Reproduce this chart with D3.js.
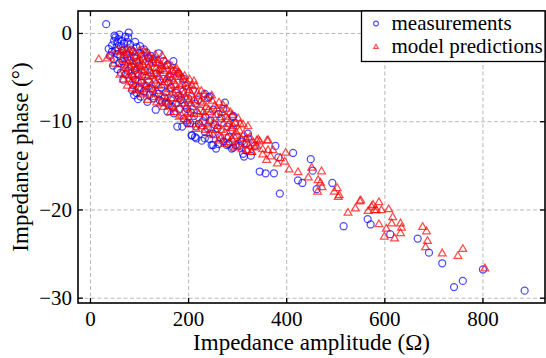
<!DOCTYPE html>
<html>
<head>
<meta charset="utf-8">
<script src="https://cdn.jsdelivr.net/npm/d3@7"></script>
<style>
  body { margin: 0; background: #fff; }
  svg text { font-family: "Liberation Serif", Tinos, "Times New Roman", Times, "DejaVu Serif", serif !important; fill: #000; }
</style>
</head>
<body>
<div id="hook-chart"></div>
<script>
'use strict';

// measured points [amplitude (ohm), phase (deg)]
var measurements = [
  [33,1.0],[79,0.05],[78,-0.5],[76,-1.0],[52,-0.5],[49,-0.9],[56,-1.1],[45,-1.4],[63,-1.5],[54,-1.65],
  [69,-1.85],[110,-1.85],[41,-2.6],[49,-3.0],[56,-2.4],[66,-3.2],[56,-4.1],[63,-4.5],[73,-4.7],[86,-4.9],
  [100,-3.7],[90,-2.8],[124,-2.6],[134,-3.3],[144,-4.1],[171,-4.3],[164,-5.0],[191,-5.2],
  [60,-0.2],[58,-0.7],[70,-1.2],[82,-1.3],[95,-1.6],[88,-2.1],[74,-2.4],[62,-2.6],[45,-2.1],[38,-1.8],
  [80,-3.1],[95,-3.3],[108,-3.0],[115,-2.2],[104,-2.4],[120,-3.6],[112,-4.3],[98,-4.6],[85,-3.8],[70,-3.6],
  [130,-4.6],[150,-3.2],[140,-2.3],[158,-3.6],[170,-3.2],[180,-4.6],
  [86,-6.5],[90,-7.05],[103,-7.2],[117,-7.8],[130,-7.4],[147,-7.8],[134,-8.7],[158,-8.9],[171,-9.1],[191,-9.7],
  [178,-10.6],[188,-10.6],[208,-11.6],[168,-8.4],[95,-6.8],[110,-6.6],[122,-7.0],[140,-6.9],[152,-7.3],[98,-7.5],
  [160,-8.0],[183,-8.6],
  [120,-5.5],[135,-5.8],[150,-5.2],[165,-6.2],[175,-6.8],[195,-6.0],[200,-7.4],[210,-6.5],[185,-7.6],[145,-6.2],
  [105,-5.6],[92,-5.3],[125,-6.3],[155,-6.7],[215,-8.0],[225,-8.8],[235,-9.5],[205,-9.0],[198,-8.6],[245,-9.9],
  [255,-10.4],[262,-9.2],[280,-10.6],[290,-11.0],[300,-11.8],[310,-12.3],[250,-11.4],[265,-11.8],[240,-10.8],[222,-10.3],
  [234,-6.9],[241,-7.3],[275,-7.9],[272,-8.6],[292,-9.4],[216,-10.6],[234,-11.2],[214,-11.8],[251,-12.7],[272,-12.3],
  [292,-13.0],[322,-11.4],[244,-7.2],[251,-8.7],[291,-9.5],[322,-11.95],
  [50,-0.3],[65,-0.9],[72,-0.4],[84,-1.9],[92,-1.0],[66,-2.0],[52,-2.0],[47,-3.7],[60,-3.4],[76,-2.8],
  [102,-1.5],[118,-2.8],[128,-3.0],[136,-4.6],[92,-4.2],[106,-4.9],[78,-4.3],[68,-5.3],[88,-5.9],[100,-6.2],
  [115,-6.0],[128,-6.6],[142,-7.6],[155,-7.9],[165,-7.6],[175,-8.0],[193,-8.2],[204,-10.2],[180,-7.1],[160,-5.6],
  [190,-6.6],[220,-7.6],[230,-10.0],[260,-10.8],[268,-9.7],[283,-11.8],[296,-10.2],[305,-12.8],[228,-12.2],[243,-12.0],
  [262,-12.6],[282,-12.6],[318,-13.3],[336,-12.8],[198,-10.2],[212,-9.4],
  [207,-11.6],[217,-11.95],[234,-11.95],[248,-12.7],[257,-13.1],[289,-13.1],[279,-12.7],[297,-12.7],[319,-12.5],[312,-13.7],
  [314,-14.0],[328,-13.9],[346,-15.7],[358,-15.9],[375,-15.9],[378,-12.8],[384,-14.1],[387,-18.2],[414,-13.6],[450,-14.3],
  [454,-15.6],[424,-16.7],[433,-17.0],[494,-17.0],[462,-17.7],[517,-21.9],[566,-21.1],[572,-21.7],
  [612,-22.8],[668,-23.3],[691,-24.9],[718,-26.1],[801,-26.8],[742,-28.8],[760,-28.1],[886,-29.2]
];

// model output points [amplitude (ohm), phase (deg)]
var predictions = [
  [18,-3.0],[41,-2.6],[49,-3.5],[61,-4.75],[35,-2.9],[55,-2.0],
  [62,-2.2],[66,-3.0],[70,-2.5],[72,-4.0],[75,-1.9],[78,-3.4],[80,-5.2],[83,-2.8],[85,-4.4],[88,-2.1],
  [90,-3.6],[92,-5.8],[95,-2.6],[97,-4.8],[99,-3.2],[68,-5.3],[76,-6.0],[86,-6.3],[94,-4.1],[82,-3.9],
  [101,-2.0],[103,-3.8],[105,-5.5],[107,-2.7],[109,-4.5],[111,-6.8],[113,-3.3],[115,-2.3],[117,-5.0],[119,-3.9],
  [121,-6.2],[123,-2.8],[125,-4.6],[127,-7.3],[129,-3.4],[131,-5.4],[133,-2.5],[135,-4.0],[137,-6.6],[139,-3.1],
  [141,-5.0],[143,-8.0],[145,-3.7],[147,-2.6],[149,-5.9],[102,-6.4],[118,-7.6],[136,-7.9],[108,-3.6],[128,-4.9],
  [142,-4.3],[112,-5.8],[124,-3.5],
  [151,-4.3],[153,-3.2],[155,-6.8],[157,-5.1],[159,-3.6],[161,-8.3],[163,-4.7],[165,-6.0],[167,-3.8],[169,-7.4],
  [171,-5.5],[173,-9.0],[175,-4.2],[177,-6.5],[179,-8.0],[181,-5.0],[183,-4.6],[185,-7.1],[187,-9.4],[189,-5.8],
  [191,-6.9],[193,-4.9],[195,-8.5],[197,-10.0],[199,-6.2],[201,-7.7],[203,-5.3],[205,-9.2],[207,-7.0],[209,-8.4],
  [212,-5.5],[158,-7.8],[176,-4.0],[186,-5.0],
  [64,-3.6],[67,-2.0],[71,-4.6],[74,-3.1],[77,-2.3],[79,-4.8],[81,-2.0],[84,-5.6],[87,-3.3],[89,-4.9],
  [91,-2.3],[93,-6.5],[96,-3.9],[98,-5.4],[100,-2.9],[104,-4.2],[106,-7.0],[110,-2.1],[114,-4.8],[116,-6.4],
  [120,-2.6],[122,-4.3],[126,-5.8],[130,-2.9],[132,-6.9],[134,-4.6],[138,-3.5],[140,-6.0],[144,-5.4],[146,-7.2],
  [148,-4.1],[150,-8.4],[152,-5.6],[154,-3.8],[156,-7.5],[160,-4.8],[162,-6.4],[164,-9.0],[166,-5.3],[168,-4.3],
  [170,-6.8],[172,-8.6],[174,-5.9],[178,-7.5],[180,-4.5],[182,-9.5],[184,-6.0],[188,-8.0],[190,-5.2],[192,-9.8],
  [194,-7.3],[198,-5.7],[200,-9.0],[202,-6.5],[204,-10.4],[206,-8.0],[208,-6.0],[211,-9.8],[213,-7.6],[216,-10.9],
  [219,-6.8],[222,-9.2],[225,-7.8],[228,-10.6],[231,-9.0],[234,-7.0],[237,-8.4],[240,-10.4],[243,-11.4],[246,-9.0],
  [249,-7.7],[252,-10.2],[256,-11.0],[259,-8.6],[262,-12.2],[265,-9.6],[268,-11.0],[271,-8.2],[274,-12.6],[277,-9.5],
  [280,-11.8],[283,-10.3],[286,-9.0],[289,-12.0],[292,-10.6],[295,-13.0],[298,-11.3],[303,-12.3],[306,-10.3],[310,-13.2],
  [314,-11.5],[318,-12.0],[320,-13.3],[324,-12.8],[333,-12.5],[336,-13.0],
  [215,-6.0],[218,-8.9],[221,-7.2],[224,-10.3],[227,-6.6],[230,-8.0],[233,-9.6],[236,-11.0],[239,-7.5],[242,-8.7],
  [245,-10.0],[248,-7.1],[251,-11.6],[254,-8.3],[257,-9.3],[260,-10.6],[263,-7.9],[266,-12.0],[269,-9.0],[272,-10.3],
  [275,-11.3],[278,-8.6],[281,-9.8],[284,-12.4],[287,-10.8],[290,-9.3],[293,-11.7],[296,-10.2],[299,-12.8],[302,-9.7],
  [305,-11.1],[308,-12.0],[312,-10.4],[316,-12.6],[322,-10.6],[326,-11.8],[330,-13.5],[340,-12.2],[346,-12.3],[363,-12.2],
  [343,-12.1],[361,-12.2],
  [340,-12.8],[352,-13.2],[363,-13.3],[373,-13.3],[352,-13.8],[360,-14.4],[382,-14.8],[399,-13.6],[397,-14.6],[329,-13.5],
  [368,-14.0],[388,-14.2],
  [406,-15.5],[424,-15.8],[445,-16.4],[452,-15.3],[472,-15.7],[465,-16.7],[470,-17.0],[473,-17.5],[464,-18.0],[498,-18.0],
  [504,-17.6],[508,-18.4],[506,-18.6],
  [526,-20.4],[541,-19.9],[550,-19.1],[552,-19.0],[567,-20.2],[574,-19.7],[577,-19.5],[580,-20.1],[584,-20.1],[589,-19.2],
  [594,-20.1],[609,-20.0],[617,-20.9],[589,-21.7],[604,-22.2],[615,-21.6],[600,-23.1],[621,-23.3],[633,-21.6],[635,-22.1],
  [633,-22.7],
  [678,-22.0],[686,-22.5],[688,-23.6],[684,-24.3],[718,-25.0],[750,-25.3],[760,-24.5],[805,-26.7]
];

var xTicks = [0, 200, 400, 600, 800];
var yTicks = [0, -10, -20, -30];
var seriesNames = ['measurements', 'model predictions'];

var serif = '"Liberation Serif", Tinos, "Times New Roman", Times, "DejaVu Serif", serif';

var options = {
  width: 546,
  height: 358,
  left: 78,
  right: 545,
  top: 11,
  bottom: 303,
  fontSize: 21
};

function draw(options) {
  var svg = d3.select('#hook-chart')
    .append('svg')
    .attr('width', options.width)
    .attr('height', options.height)
    .attr('font-family', serif);

  var x = d3.scaleLinear().domain([-24.4, 927.5]).range([options.left, options.right]);
  var y = d3.scaleLinear().domain([2.49, -30.6]).range([options.top, options.bottom]);

  var w = options.right - options.left,
    h = options.bottom - options.top;

  // dashed grid
  svg.append('g')
    .attr('transform', 'translate(0,' + options.bottom + ')')
    .call(d3.axisBottom(x).tickValues(xTicks).tickSize(-h).tickFormat(''))
    .call(function(g) { g.select('.domain').remove(); });
  svg.append('g')
    .attr('transform', 'translate(' + options.left + ',0)')
    .call(d3.axisLeft(y).tickValues(yTicks).tickSize(-w).tickFormat(''))
    .call(function(g) { g.select('.domain').remove(); });
  svg.selectAll('.tick line')
    .attr('stroke', '#b0b0b0')
    .attr('stroke-width', 0.9)
    .attr('stroke-dasharray', '4,2.5');

  var plot = svg.append('g');

  plot.selectAll('circle.meas')
    .data(measurements)
    .enter().append('circle')
    .attr('class', 'meas')
    .attr('cx', function(d) { return x(d[0]); })
    .attr('cy', function(d) { return y(d[1]); })
    .attr('r', 3.5)
    .style('fill', 'none')
    .style('stroke', 'rgb(0,0,255)')
    .style('stroke-opacity', 0.7)
    .style('stroke-width', 1.25);

  var tri = d3.symbol().type(d3.symbolTriangle).size(26);
  plot.selectAll('path.pred')
    .data(predictions)
    .enter().append('path')
    .attr('class', 'pred')
    .attr('d', tri)
    .attr('transform', function(d) { return 'translate(' + x(d[0]) + ',' + y(d[1]) + ')'; })
    .style('fill', 'none')
    .style('stroke', 'rgb(255,0,0)')
    .style('stroke-opacity', 0.7)
    .style('stroke-width', 1.25);

  // axes with inward ticks on all four sides
  function styleAxis(g) {
    g.attr('font-family', serif);
    g.select('.domain').remove();
    g.selectAll('.tick line').attr('stroke', '#000').attr('stroke-width', 1.3);
    g.selectAll('.tick text')
      .attr('font-size', options.fontSize)
      .attr('font-family', serif);
  }
  svg.append('g')
    .attr('transform', 'translate(0,' + options.bottom + ')')
    .call(d3.axisBottom(x).tickValues(xTicks).tickSize(-5).tickPadding(8))
    .call(styleAxis);
  svg.append('g')
    .attr('transform', 'translate(0,' + options.top + ')')
    .call(d3.axisTop(x).tickValues(xTicks).tickSize(-5).tickFormat(''))
    .call(styleAxis);
  svg.append('g')
    .attr('transform', 'translate(' + options.left + ',0)')
    .call(d3.axisLeft(y).tickValues(yTicks).tickSize(-5).tickPadding(6))
    .call(styleAxis);
  svg.append('g')
    .attr('transform', 'translate(' + options.right + ',0)')
    .call(d3.axisRight(y).tickValues(yTicks).tickSize(-5).tickFormat(''))
    .call(styleAxis);

  svg.append('rect')
    .attr('x', options.left)
    .attr('y', options.top)
    .attr('width', w)
    .attr('height', h)
    .style('fill', 'none')
    .style('stroke', '#000')
    .style('stroke-width', 1.6);

  // axis titles
  svg.append('text')
    .attr('x', (options.left + options.right) / 2)
    .attr('y', 350)
    .attr('text-anchor', 'middle')
    .attr('font-family', serif)
    .attr('font-size', 23)
    .text('Impedance amplitude (\u03a9)');

  svg.append('text')
    .attr('transform', 'translate(28,' + ((options.top + options.bottom) / 2) + ') rotate(-90)')
    .attr('text-anchor', 'middle')
    .attr('font-family', serif)
    .attr('font-size', 23)
    .text('Impedance phase (\u00b0)');

  // legend
  var legend = svg.append('g');
  legend.append('rect')
    .attr('x', 361.5)
    .attr('y', options.top)
    .attr('width', options.right - 361.5)
    .attr('height', 50.5)
    .style('fill', '#fff')
    .style('stroke', '#000')
    .style('stroke-width', 1.3);

  legend.append('circle')
    .attr('cx', 376)
    .attr('cy', 23.5)
    .attr('r', 2.4)
    .style('fill', 'none')
    .style('stroke', 'rgb(0,0,255)')
    .style('stroke-opacity', 0.7)
    .style('stroke-width', 1.1);
  legend.append('path')
    .attr('d', d3.symbol().type(d3.symbolTriangle).size(10)())
    .attr('transform', 'translate(376,47)')
    .style('fill', 'none')
    .style('stroke', 'rgb(255,0,0)')
    .style('stroke-opacity', 0.7)
    .style('stroke-width', 1.1);

  legend.selectAll('text')
    .data(seriesNames)
    .enter().append('text')
    .attr('x', 391.5)
    .attr('y', function(d, i) { return 29.5 + i * 23.2; })
    .attr('font-family', serif)
    .attr('font-size', options.fontSize)
    .text(function(d) { return d; });
}

draw(options);
</script>
</body>
</html>
